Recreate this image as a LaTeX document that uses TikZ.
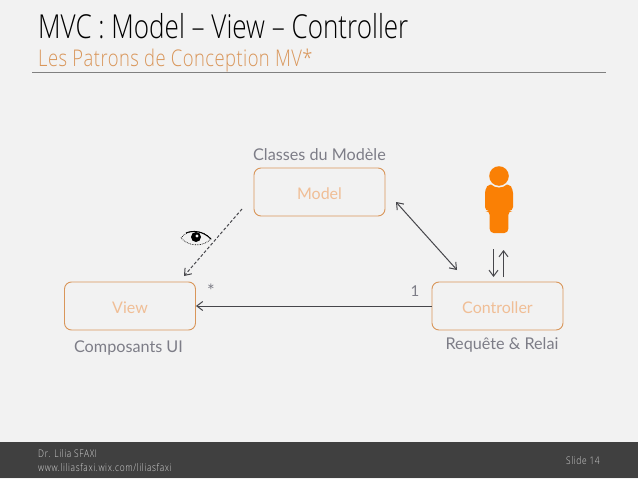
\documentclass[tikz,border=0pt]{standalone}
\usepackage{fontspec}
\setmainfont{Lato}
\newfontfamily\titlefont[FakeStretch=0.79]{Open Sans Light}
\newfontfamily\subtitlefont[FakeStretch=0.8,LetterSpace=2]{Open Sans Light}
\newfontfamily\footfont[FakeStretch=0.8,LetterSpace=6]{Open Sans Light}
\usepackage{tikz}
\usetikzlibrary{arrows.meta,positioning}
\usepackage{xcolor}
\definecolor{paper}{RGB}{242,242,242}
\definecolor{band}{RGB}{64,64,64}
\definecolor{edge}{RGB}{217,150,90}
\definecolor{boxtext}{RGB}{240,190,150}
\definecolor{person}{RGB}{250,128,5}
\definecolor{note}{RGB}{125,125,135}
\definecolor{wire}{RGB}{70,70,75}
\tikzset{
  part/.style={draw=edge,rounded corners=7pt,minimum width=131pt,minimum height=48pt,inner sep=0pt,line width=.9pt,text=boxtext,text height=14pt,text depth=0pt,font=\fontsize{16}{18}\selectfont},
  caption/.style={text=note,inner sep=0pt,font=\fontsize{16.2}{18}\selectfont},
  wired/.style={wire,line width=1pt,-{Straight Barb[length=6pt,width=9pt]}},
  foot/.style={text=white!78!band,inner sep=0pt,anchor=base west,font=\footfont\fontsize{10.5}{12}\selectfont}
}
\begin{document}
\begin{tikzpicture}[x=1pt,y=-1pt]
\useasboundingbox (0,0) rectangle (638,479);
\fill[paper] (0,0) rectangle (638,479);
\fill[band] (0,442) rectangle (638,478);
\draw[gray,line width=1pt] (32,72) -- (606,72);
% titles
\node[anchor=base west,inner sep=0pt,font=\titlefont\fontsize{33}{35}\selectfont] (title) at (38,38) {MVC : Model – View – Controller};
\node[anchor=base west,inner sep=0pt,text=edge,font=\subtitlefont\fontsize{23}{25}\selectfont] (subtitle) at (38,66) {Les Patrons de Conception MV*};
% parts
\node[part] (model) at (319.5,192) {Model};
\node[part] (view) at (130,306) {View};
\node[part] (controller) at (497.5,306) {Controller};
\node[caption] (modelnote) at (319.5,155) {Classes du Modèle};
\node[caption] (viewnote) at (128.5,348) {Composants UI};
\node[caption] (controllernote) at (502,345) {Requête \& Relai};
\node[caption,font=\fontsize{18}{20}\selectfont] (star) at (211,291) {*};
\node[caption,font=\fontsize{15}{17}\selectfont] (one) at (415,291) {1};
% person
\fill[person,rounded corners=4pt] (485,211) -- (485,189) -- (489,184) -- (509,184) -- (513,189) -- (513,211) -- (508.3,211) -- (508.3,233) -- (489.7,233) -- (489.7,211) -- cycle;
\fill[paper] (499,176) circle (11.5pt);
\fill[person] (499,176) circle (9.8pt);
% eye
\fill[black] (196,237) circle (5pt);
\fill[paper] (197,236) circle (1.6pt);
\draw[black,line width=.7pt,densely dotted] (181,238) .. controls (187,229) and (203,229) .. (211,239) .. controls (203,247) and (189,247) .. (181,238);
\draw[black,line width=1pt] (186,233) .. controls (193,230) and (203,231) .. (211,239);
% connectors
\coordinate (obsstart) at (242,209);
\coordinate (obsend) at (184,276);
\coordinate (syncstart) at (396,202);
\coordinate (syncend) at (457,270);
\coordinate (downstart) at (493.5,249);
\coordinate (downend) at (493.5,277);
\coordinate (upstart) at (503.5,277);
\coordinate (upend) at (503.5,250);
\draw[wired,densely dashed] (obsstart) -- (obsend);
\draw[wired,{Straight Barb[length=6pt,width=9pt]}-{Straight Barb[length=6pt,width=9pt]}] (syncstart) -- (syncend);
\draw[wired] (controller) -- (view);
\draw[wired] (downstart) -- (downend);
\draw[wired] (upstart) -- (upend);
% footer
\node[foot] (author) at (38,457) {Dr. Lilia SFAXI};
\node[foot] (site) at (38,471) {www.liliasfaxi.wix.com/liliasfaxi};
\node[foot] (slide) at (566,464) {Slide 14};
\end{tikzpicture}
\end{document}
